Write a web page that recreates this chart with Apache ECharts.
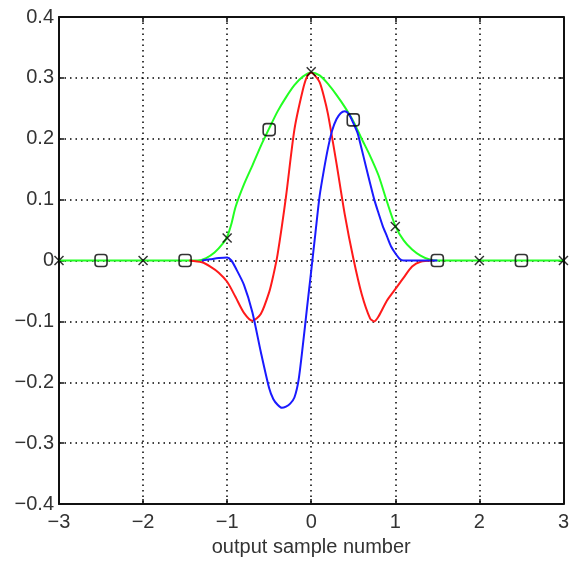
<!DOCTYPE html>
<html>
<head>
<meta charset="utf-8">
<script src="https://cdn.jsdelivr.net/npm/echarts@6/dist/echarts.min.js"></script>
<style>html,body{margin:0;padding:0;background:#fff}#c{width:572px;height:562px}</style>
</head>
<body>
<div id="c"></div>
<script>
const xTicks = [-3, -2, -1, 0, 1, 2, 3];
const yTicks = [-0.4, -0.3, -0.2, -0.1, 0, 0.1, 0.2, 0.3, 0.4];
const xAxisName = 'output sample number';

const greenX = [-3, -1.35, -1.25, -1.15, -1.05, -1.0, -0.95, -0.9, -0.8, -0.7, -0.6, -0.5, -0.4, -0.3, -0.2, -0.1, 0, 0.1, 0.2, 0.3, 0.4, 0.5, 0.6, 0.7, 0.8, 0.9, 1.0, 1.1, 1.2, 1.3, 1.4, 1.5, 3];
const greenY = [0, 0, 0.004, 0.013, 0.028, 0.039, 0.06, 0.088, 0.125, 0.156, 0.188, 0.217, 0.245, 0.268, 0.288, 0.302, 0.309, 0.304, 0.29, 0.272, 0.252, 0.229, 0.2, 0.172, 0.14, 0.097, 0.057, 0.033, 0.018, 0.008, 0.002, 0, 0];

const redX = [-1.45, -1.3, -1.2, -1.1, -1.0, -0.9, -0.8, -0.7, -0.6, -0.5, -0.45, -0.4, -0.3, -0.2, -0.1, -0.05, 0, 0.05, 0.1, 0.15, 0.2, 0.3, 0.4, 0.5, 0.6, 0.7, 0.75, 0.8, 0.9, 1.0, 1.1, 1.2, 1.3, 1.45];
const redY = [0, -0.003, -0.01, -0.02, -0.035, -0.06, -0.086, -0.099, -0.088, -0.052, -0.024, 0.01, 0.105, 0.215, 0.28, 0.302, 0.309, 0.303, 0.293, 0.27, 0.24, 0.16, 0.075, 0.004, -0.055, -0.095, -0.1, -0.092, -0.066, -0.047, -0.028, -0.01, -0.002, 0];

const blueX = [-1.3, -1.2, -1.1, -1.0, -0.95, -0.9, -0.8, -0.7, -0.6, -0.5, -0.45, -0.4, -0.35, -0.3, -0.25, -0.2, -0.15, -0.1, -0.05, 0, 0.05, 0.1, 0.15, 0.2, 0.25, 0.3, 0.35, 0.4, 0.45, 0.5, 0.55, 0.6, 0.65, 0.7, 0.75, 0.8, 0.85, 0.9, 0.95, 1.0, 1.05, 1.1, 1.5];
const blueY = [0, 0.002, 0.004, 0.005, 0.0, -0.012, -0.04, -0.085, -0.15, -0.21, -0.228, -0.237, -0.242, -0.24, -0.235, -0.225, -0.196, -0.14, -0.078, -0.017, 0.045, 0.106, 0.148, 0.185, 0.214, 0.232, 0.242, 0.245, 0.24, 0.226, 0.21, 0.183, 0.155, 0.127, 0.1, 0.078, 0.057, 0.04, 0.023, 0.012, 0.003, 0, 0];

const crossX = [-3, -2, -1, 0, 1, 2, 3];
const crossY = [0, 0, 0.037, 0.31, 0.056, 0, 0];
const circleX = [-2.5, -1.5, -0.5, 0.5, 1.5, 2.5];
const circleY = [0, 0, 0.215, 0.231, 0, 0];

const zip = (a, b) => a.map((v, i) => [v, b[i]]);
const fmt = v => {
  const r = Math.round(v * 10) / 10;
  if (r === 0) return '0';
  const s = Number.isInteger(r) ? String(Math.abs(r)) : Math.abs(r).toFixed(1);
  return (r < 0 ? '\u2212' : '') + s;
};
const font = 'Liberation Sans, Arial, Helvetica, sans-serif';
const labelStyle = { fontFamily: font, fontSize: 20, color: '#333' };
const gridLine = { show: true, lineStyle: { color: '#000', width: 1.5, type: [1.5, 4] } };
const frameLine = { show: true, onZero: false, lineStyle: { color: '#111', width: 2 } };
const tickIn = { show: true, inside: true, length: 5, lineStyle: { color: '#111', width: 1.5 } };

const chart = echarts.init(document.getElementById('c'), null, { renderer: 'canvas' });
chart.setOption({
  animation: false,
  backgroundColor: '#fff',
  grid: { left: 59, right: 7, top: 17, bottom: 56, containLabel: false },
  xAxis: [{
    type: 'value', min: xTicks[0], max: xTicks[xTicks.length - 1], interval: 1,
    position: 'bottom',
    name: xAxisName, nameLocation: 'middle', nameGap: 33,
    nameTextStyle: { fontFamily: font, fontSize: 20, color: '#333' },
    axisLine: frameLine, axisTick: tickIn,
    axisLabel: Object.assign({ margin: 8, formatter: fmt }, labelStyle),
    splitLine: gridLine
  }, {
    type: 'value', min: xTicks[0], max: xTicks[xTicks.length - 1], interval: 1,
    position: 'top', axisLine: frameLine, axisTick: tickIn,
    axisLabel: { show: false }, splitLine: { show: false }
  }],
  yAxis: [{
    type: 'value', min: yTicks[0], max: yTicks[yTicks.length - 1], interval: 0.1,
    position: 'left', axisLine: frameLine, axisTick: tickIn,
    axisLabel: Object.assign({ margin: 5, formatter: fmt }, labelStyle),
    splitLine: gridLine
  }, {
    type: 'value', min: yTicks[0], max: yTicks[yTicks.length - 1], interval: 0.1,
    position: 'right', axisLine: frameLine, axisTick: tickIn,
    axisLabel: { show: false }, splitLine: { show: false }
  }],
  series: [
    { type: 'line', data: zip(greenX, greenY), showSymbol: false, smooth: 0.25,
      lineStyle: { color: '#22ff22', width: 2 }, z: 2 },
    { type: 'line', data: zip(redX, redY), showSymbol: false, smooth: 0.25,
      lineStyle: { color: '#ff1a1a', width: 2 }, z: 3 },
    { type: 'line', data: zip(blueX, blueY), showSymbol: false, smooth: 0.25,
      lineStyle: { color: '#1a1aff', width: 2 }, z: 4 },
    { type: 'scatter', data: zip(crossX, crossY), symbol: 'path://M0,0L10,10M10,0L0,10', symbolSize: 9,
      itemStyle: { color: 'none', borderColor: '#000', borderWidth: 1.5 }, z: 5 },
    { type: 'scatter', data: zip(circleX, circleY), symbol: 'roundRect', symbolSize: 12,
      itemStyle: { color: 'none', borderColor: '#000', borderWidth: 1.6 }, z: 5 }
  ]
});
</script>
</body>
</html>
